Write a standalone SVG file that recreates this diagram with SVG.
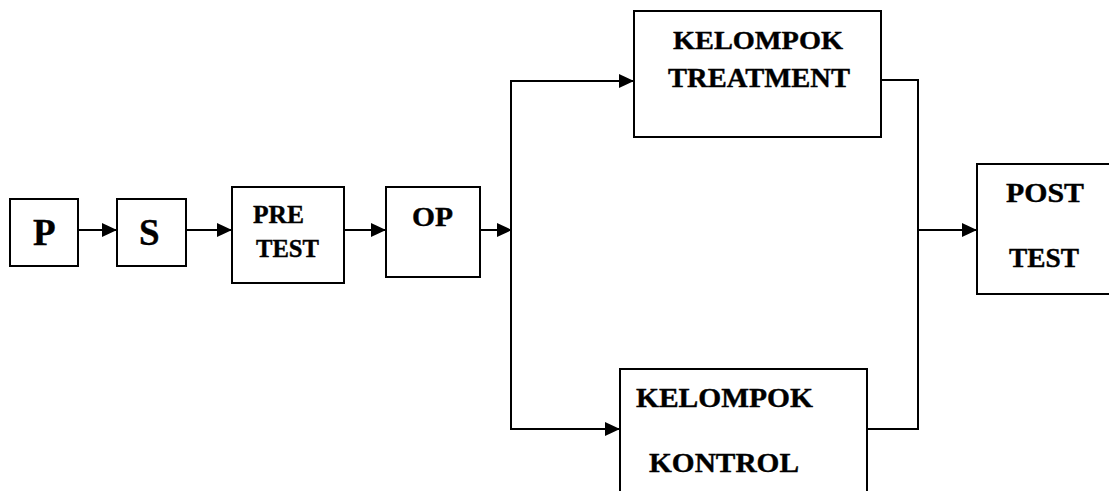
<svg xmlns="http://www.w3.org/2000/svg" width="1109" height="491" viewBox="0 0 1109 491">
<style>
.box{fill:#fff;stroke:#000;stroke-width:2}
.t{font-family:"Liberation Serif","Times New Roman",serif;font-weight:bold;fill:#000;stroke:#000;stroke-width:0.4}
.c{fill:none;stroke:#000;stroke-width:2}
</style>
<defs>
<marker id="ah" markerUnits="userSpaceOnUse" markerWidth="16" markerHeight="16" refX="15" refY="7" orient="auto">
<path d="M0,0 L15,7 L0,14 Z" fill="#000"/>
</marker>
</defs>
<rect width="1109" height="491" fill="#fff"/>
<g id="connectors">
<line class="c" x1="78" y1="230" x2="117" y2="230" marker-end="url(#ah)"/>
<line class="c" x1="186" y1="230" x2="232" y2="230" marker-end="url(#ah)"/>
<line class="c" x1="344" y1="230" x2="386" y2="230" marker-end="url(#ah)"/>
<line class="c" x1="480" y1="230" x2="512" y2="230" marker-end="url(#ah)"/>
<line class="c" x1="511" y1="80" x2="511" y2="430"/>
<line class="c" x1="510" y1="81" x2="634" y2="81" marker-end="url(#ah)"/>
<line class="c" x1="510" y1="429" x2="620" y2="429" marker-end="url(#ah)"/>
<polyline class="c" points="881,80 918,80 918,429 867,429"/>
<line class="c" x1="918" y1="230" x2="977" y2="230" marker-end="url(#ah)"/>
</g>
<g id="node-p">
<rect class="box" x="10" y="199" width="68" height="67"/>
<text class="t" x="33" y="245" font-size="37">P</text>
</g>
<g id="node-s">
<rect class="box" x="117" y="199" width="69" height="67"/>
<text class="t" x="139" y="245" font-size="37">S</text>
</g>
<g id="node-pretest">
<rect class="box" x="232" y="187" width="112" height="96"/>
<text class="t" x="253" y="223" font-size="25" textLength="51" lengthAdjust="spacingAndGlyphs">PRE</text>
<text class="t" x="256" y="257" font-size="25" textLength="63" lengthAdjust="spacingAndGlyphs">TEST</text>
</g>
<g id="node-op">
<rect class="box" x="386" y="187" width="94" height="90"/>
<text class="t" x="412" y="226" font-size="28" textLength="41" lengthAdjust="spacingAndGlyphs">OP</text>
</g>
<g id="node-treatment">
<rect class="box" x="634" y="11" width="247" height="126"/>
<text class="t" x="673" y="49" font-size="26" textLength="170" lengthAdjust="spacingAndGlyphs">KELOMPOK</text>
<text class="t" x="668" y="87" font-size="27" textLength="182" lengthAdjust="spacingAndGlyphs">TREATMENT</text>
</g>
<g id="node-kontrol">
<rect class="box" x="620" y="369" width="247" height="130"/>
<text class="t" x="636" y="407" font-size="28" textLength="177" lengthAdjust="spacingAndGlyphs">KELOMPOK</text>
<text class="t" x="649" y="472" font-size="28" textLength="150" lengthAdjust="spacingAndGlyphs">KONTROL</text>
</g>
<g id="node-posttest">
<rect class="box" x="977" y="164" width="140" height="130"/>
<text class="t" x="1006" y="202" font-size="28" textLength="78" lengthAdjust="spacingAndGlyphs">POST</text>
<text class="t" x="1009" y="267" font-size="27" textLength="70" lengthAdjust="spacingAndGlyphs">TEST</text>
</g>
</svg>
